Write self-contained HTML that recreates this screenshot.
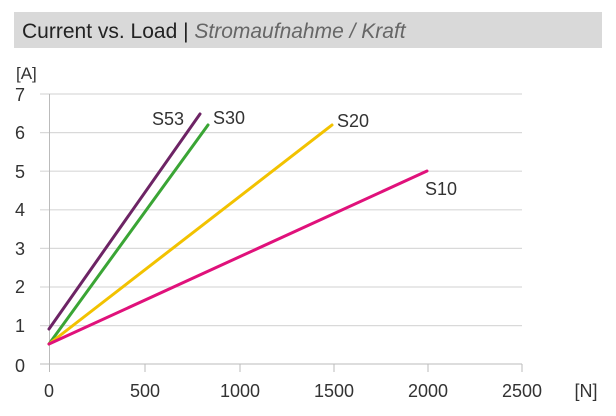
<!DOCTYPE html>
<html><head><meta charset="utf-8"><style>
body{margin:0;background:#fff;width:616px;height:411px;overflow:hidden;font-family:"Liberation Sans",sans-serif}
</style></head><body>
<svg width="616" height="411" xmlns="http://www.w3.org/2000/svg" font-family="Liberation Sans, sans-serif">
<rect x="14" y="12" width="588" height="36" fill="#d9d9d9"/>
<text x="22" y="38" font-size="21" fill="#222">Current vs. Load | <tspan fill="#666" font-style="italic">Stromaufnahme / Kraft</tspan></text>
<text x="16" y="79" font-size="17" fill="#333">[A]</text>
<g stroke="#d9d9d9" stroke-width="1.2">
<line x1="40" y1="94" x2="522" y2="94"/><line x1="40" y1="132.6" x2="522" y2="132.6"/>
<line x1="40" y1="171.2" x2="522" y2="171.2"/><line x1="40" y1="209.8" x2="522" y2="209.8"/>
<line x1="40" y1="248.4" x2="522" y2="248.4"/><line x1="40" y1="287" x2="522" y2="287"/>
<line x1="40" y1="325.6" x2="522" y2="325.6"/>
</g>
<g stroke="#bbb" stroke-width="1">
<line x1="40" y1="364" x2="522" y2="364"/><line x1="49.5" y1="94" x2="49.5" y2="372"/>
<line x1="145" y1="364" x2="145" y2="372"/><line x1="240" y1="364" x2="240" y2="372"/>
<line x1="334" y1="364" x2="334" y2="372"/><line x1="428" y1="364" x2="428" y2="372"/>
<line x1="522" y1="364" x2="522" y2="372"/>
</g>
<g font-size="18" fill="#333" text-anchor="middle">
<text x="20" y="101">7</text><text x="20" y="139">6</text><text x="20" y="178">5</text>
<text x="20" y="216">4</text><text x="20" y="255">3</text><text x="20" y="293">2</text>
<text x="20" y="332">1</text><text x="20" y="372">0</text>
<text x="49" y="397">0</text><text x="145" y="397">500</text><text x="240" y="397">1000</text>
<text x="334" y="397">1500</text><text x="428" y="397">2000</text><text x="522" y="397">2500</text>
<text x="586" y="397">[N]</text>
</g>
<g stroke-width="3" stroke-linecap="round" fill="none">
<line x1="49" y1="329" x2="200" y2="114" stroke="#6d2465"/>
<line x1="49" y1="344" x2="208" y2="125" stroke="#3aa535"/>
<line x1="49" y1="344" x2="332" y2="125" stroke="#f2c200"/>
<line x1="49" y1="344" x2="427" y2="171" stroke="#e0117b"/>
</g>
<g font-size="18" fill="#333">
<text x="152" y="125">S53</text><text x="213" y="124">S30</text>
<text x="337" y="127">S20</text><text x="425" y="195">S10</text>
</g>
</svg>
</body></html>
